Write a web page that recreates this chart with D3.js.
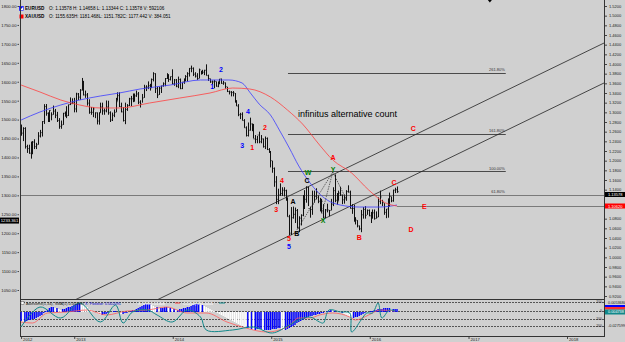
<!DOCTYPE html>
<html>
<head>
<meta charset="utf-8">
<script src="https://cdn.jsdelivr.net/npm/d3@7"></script>
<style>
  body { margin: 0; background: #d0d0d0; }
  svg { display: block; font-family: "Liberation Sans", Arial, sans-serif; }
</style>
</head>
<body>
<svg id="chart" width="625" height="342"></svg>
<script>
// EURUSD weekly bars, one row per year (2012 from Jun 18, 2016 up to Apr 11)
const hi = [
  1.2747,1.2692,1.2692,1.2330,1.2330,1.2390,1.2405,1.2443,1.2369,1.2590,1.2637,1.2818,1.3169,1.3172,1.3000,1.3044,1.3000,1.3140,1.3070,1.3010,1.2880,1.2830,1.2990,1.3017,1.3127,1.3160,1.3308,1.3290,
  1.3300,1.3405,1.3400,1.3480,1.3711,1.3650,1.3450,1.3400,1.3270,1.3110,1.3110,1.3000,1.3000,1.3000,1.3200,1.3200,1.3080,1.3245,1.3240,1.3020,1.2995,1.3060,1.3300,1.3415,1.3415,1.3200,1.3110,1.3200,1.3170,1.3300,1.3340,1.3390,1.3390,1.3450,1.3420,1.3250,1.3380,1.3570,1.3560,1.3640,1.3590,1.3700,1.3830,1.3810,1.3530,1.3530,1.3550,1.3620,1.3710,1.3810,1.3790,1.3740,
  1.3890,1.3690,1.3690,1.3740,1.3700,1.3620,1.3700,1.3770,1.3830,1.3915,1.3967,1.3930,1.3830,1.3810,1.3905,1.3860,1.3880,1.3880,1.3993,1.3780,1.3700,1.3660,1.3670,1.3640,1.3640,1.3690,1.3700,1.3650,1.3620,1.3530,1.3450,1.3440,1.3440,1.3400,1.3250,1.3170,1.2990,1.3000,1.2860,1.2710,1.2790,1.2890,1.2770,1.2760,1.2530,1.2510,1.2600,1.2530,1.2460,1.2500,1.2480,1.2260,
  1.2200,1.2000,1.1860,1.1680,1.1420,1.1530,1.1450,1.1450,1.1400,1.1240,1.0880,1.1040,1.1050,1.1030,1.1000,1.0850,1.0890,1.1290,1.1390,1.1470,1.1460,1.1050,1.1380,1.1380,1.1430,1.1280,1.1230,1.1210,1.1100,1.1000,1.1110,1.0980,1.1210,1.1450,1.1715,1.1330,1.1380,1.1460,1.1300,1.1300,1.1390,1.1490,1.1380,1.1100,1.1090,1.0830,1.0770,1.0660,1.0980,1.1040,1.1060,1.0990,
  1.0990,1.0940,1.0990,1.0990,1.0950,1.1240,1.1380,1.1190,1.1120,1.1000,1.1220,1.1340,1.1260,1.1400,1.1440,1.1466
];
const lo = [
  1.2516,1.2405,1.2250,1.2160,1.2143,1.2042,1.2133,1.2240,1.2240,1.2330,1.2480,1.2500,1.2760,1.2930,1.2800,1.2800,1.2835,1.2950,1.2880,1.2800,1.2660,1.2660,1.2740,1.2910,1.2880,1.2925,1.3150,1.3170,
  1.3000,1.3000,1.3255,1.3260,1.3450,1.3350,1.3300,1.3140,1.2970,1.2950,1.2900,1.2880,1.2750,1.2745,1.2990,1.2950,1.2950,1.3000,1.2950,1.2800,1.2820,1.2900,1.3000,1.3240,1.3110,1.3000,1.2810,1.2755,1.3030,1.3130,1.3130,1.3210,1.3220,1.3320,1.3170,1.3100,1.3200,1.3300,1.3440,1.3480,1.3450,1.3500,1.3640,1.3400,1.3295,1.3360,1.3400,1.3530,1.3540,1.3690,1.3630,1.3660,
  1.3580,1.3550,1.3520,1.3500,1.3480,1.3480,1.3590,1.3640,1.3640,1.3740,1.3830,1.3750,1.3720,1.3670,1.3700,1.3780,1.3790,1.3770,1.3760,1.3650,1.3610,1.3585,1.3500,1.3530,1.3520,1.3580,1.3590,1.3570,1.3490,1.3420,1.3370,1.3330,1.3330,1.3200,1.3130,1.2920,1.2860,1.2830,1.2680,1.2500,1.2500,1.2620,1.2610,1.2460,1.2360,1.2360,1.2360,1.2360,1.2270,1.2240,1.2220,1.2160,
  1.1860,1.1750,1.1460,1.1100,1.1100,1.1270,1.1270,1.1260,1.1170,1.0840,1.0462,1.0460,1.0800,1.0710,1.0600,1.0520,1.0660,1.0850,1.1000,1.1130,1.1060,1.0820,1.0880,1.1130,1.1200,1.1120,1.0950,1.0920,1.0810,1.0810,1.0930,1.0850,1.0970,1.1060,1.1140,1.1090,1.1170,1.1270,1.1100,1.1110,1.1170,1.1340,1.1010,1.0900,1.0740,1.0680,1.0620,1.0560,1.0520,1.0800,1.0800,1.0880,
  1.0850,1.0710,1.0800,1.0780,1.0800,1.0830,1.1100,1.1060,1.0880,1.0810,1.0820,1.1050,1.1140,1.1150,1.1330,1.1334
];
const cl = [
  1.2570,1.2666,1.2290,1.2250,1.2155,1.2390,1.2385,1.2290,1.2330,1.2510,1.2580,1.2810,1.3120,1.2980,1.2860,1.3040,1.2950,1.3025,1.2940,1.2830,1.2710,1.2740,1.2980,1.2990,1.2930,1.3160,1.3180,1.3195,
  1.3070,1.3380,1.3315,1.3460,1.3640,1.3360,1.3360,1.3190,1.3000,1.3000,1.3070,1.2990,1.2820,1.2990,1.3110,1.3030,1.3030,1.3110,1.2990,1.2840,1.2940,1.3000,1.3220,1.3345,1.3120,1.3010,1.2830,1.3060,1.3140,1.3280,1.3280,1.3340,1.3340,1.3380,1.3210,1.3170,1.3300,1.3520,1.3520,1.3550,1.3550,1.3680,1.3800,1.3490,1.3360,1.3500,1.3550,1.3590,1.3700,1.3740,1.3680,1.3740,
  1.3590,1.3670,1.3540,1.3680,1.3490,1.3630,1.3690,1.3740,1.3800,1.3910,1.3910,1.3790,1.3750,1.3700,1.3880,1.3810,1.3830,1.3870,1.3760,1.3700,1.3630,1.3630,1.3640,1.3540,1.3610,1.3690,1.3600,1.3610,1.3530,1.3430,1.3420,1.3410,1.3400,1.3240,1.3130,1.2950,1.2960,1.2830,1.2680,1.2520,1.2630,1.2760,1.2670,1.2450,1.2440,1.2530,1.2390,1.2450,1.2290,1.2460,1.2230,1.2190,
  1.2000,1.1840,1.1560,1.1200,1.1290,1.1320,1.1390,1.1380,1.1200,1.0840,1.0500,1.0820,1.0890,1.0970,1.0600,1.0810,1.0870,1.1200,1.1200,1.1450,1.1010,1.0990,1.1100,1.1260,1.1350,1.1160,1.1110,1.1160,1.0830,1.0980,1.0980,1.0970,1.1100,1.1380,1.1180,1.1150,1.1330,1.1290,1.1190,1.1210,1.1360,1.1350,1.1010,1.1010,1.0740,1.0770,1.0650,1.0590,1.0880,1.0990,1.0870,1.0970,
  1.0860,1.0920,1.0920,1.0800,1.0830,1.1160,1.1250,1.1130,1.0930,1.1000,1.1150,1.1260,1.1170,1.1390,1.1400,1.1358
];

// moving averages: [week index, price]
const blueMA = [[0,1.2841],[10,1.3007],[21,1.3152],[31,1.3255],[42,1.3338],[52,1.3400],[63,1.3483],[79,1.3565],[95,1.3669],[110,1.3669],[117,1.3607],[121,1.3420],[126,1.3172],[132,1.2945],[137,1.2614],[142,1.2262],[147,1.1890],[153,1.1538],[157,1.1351],[162,1.1186],[169,1.1082],[179,1.1041],[190,1.1041],[199,1.1082]];
const redMA = [[0,1.3565],[10,1.3421],[21,1.3255],[31,1.3152],[42,1.3090],[52,1.3090],[68,1.3193],[84,1.3296],[100,1.3400],[112,1.3503],[121,1.3483],[132,1.3317],[141,1.3048],[149,1.2758],[158,1.2324],[165,1.2014],[175,1.1745],[184,1.1393],[193,1.1124],[199,1.1062]];

// oscillator panel
const histo = [
  -9,-10,-10,-9,-8,-8,-7,-7,-6, -5,-4,-3,-1, 1,2,4,5,5,4,4,3, 2,3,3,4,5,5,
  6,7,8,9,9,8,7,6, 5,3,2,1,0,-1,-2,-3,-3,-2,-2, -1,0,0,1,1,0,-1, -2,-2,-1,-1,0,1,
  2,2,3,4,5,6,7,8,8,8,7,6, 5,5,4,4,4,5,5,4,4,3, 3,2,2,3,3,4,4,5,
  5,6,7,8,8,8,7,7,6,5, 4,3,2,1,0,-1,-2,-3,-4,-5,-6,-7,
  -8,-9,-10,-11,-12,-13,-14,-15,-16,-16,-17,-17,-18,-18,-17,-17,-17,-18,-18,-18,
  -18,-18,-17,-17,-17,-16,-16,-17,-18,-18,-17,-16,
  -15,-14,-13,-11,-10,-9,-8,-7,-6,-5,-4,-4,-3,
  -3,-2,-2,-1,-1,0,1,1,2,1,1,0,0,-1,-1,
  -2,-3,-4,-5,-6,-6,-5,-5,-4,-3,
  -2,-1,0,0,1,1,2,2,3,3,3,4,4,4,4,3,3,3,3
];
const signal = [[0,-10],[6,-11],[14,-1],[24,0],[35,2],[45,-3],[56,1],[67,2],[77,5],[88,-1],[98,-1],[109,-10],[119,-16],[130,-20],[141,-15],[147,-6],[153,-6],[158,-3],[165,-1],[174,-5],[177,-8],[184,-3],[190,2],[198,1]];
const cci = [[0,-15],[10,5],[21,-6],[31,9],[42,-10],[50,7],[54,-11],[59,0],[67,2],[72,-3],[80,-10],[88,2],[95,-5],[98,-18],[112,-18],[123,-15],[133,-21],[142,-13],[147,-8],[153,-5],[158,-10],[160,-11],[163,2],[169,0],[174,-1],[175,-20],[180,-8],[183,-1],[186,-1],[189,9],[191,-6],[195,2],[198,1]];
const indLevels = [10, 1, -7, -14];
const indLevelNames = ['100', '0', '-100', '-200'];

// annotations
const fibValues = [1.1293, 1.1776, 1.2557, 1.3820];
const fibNames = ['61.80%', '100.00%', '161.80%', '261.80%'];
const fibSpan = ['2015-03-04', '2017-05-19'];
const trendUpper = [['2013-01-03', 0.9117], ['2018-05-18', 1.4434]];
const trendLower = [['2013-11-03', 0.9117], ['2018-05-18', 1.3607]];
const wxyLines = [
  [['2015-04-06', 1.0565], ['2015-08-17', 1.1765]],
  [['2015-07-07', 1.0896], ['2015-08-17', 1.1765]],
  [['2015-08-17', 1.1765], ['2015-10-04', 1.1227]]
];
const waveLabels = [
  ['1','#0000ff','2014-05-27',1.3524], ['2','#0000ff','2014-06-29',1.3876],
  ['3','#0000ff','2014-09-15',1.2303], ['4','#0000ff','2014-10-07',1.3007],
  ['5','#0000ff','2015-03-08',1.0214],
  ['1','#ff0000','2014-10-22',1.2262], ['2','#ff0000','2014-12-09',1.2676],
  ['3','#ff0000','2015-01-19',1.0979], ['4','#ff0000','2015-02-10',1.1579],
  ['5','#ff0000','2015-03-08',1.0379],
  ['A','#000000','2015-03-23',1.1145], ['B','#000000','2015-04-06',1.0483],
  ['C','#000000','2015-05-14',1.1579],
  ['W','#008000','2015-05-17',1.1745], ['X','#008000','2015-07-12',1.0752],
  ['Y','#008000','2015-08-18',1.1807],
  ['A','#ff0000','2015-08-18',1.2055], ['B','#ff0000','2015-11-23',1.0400],
  ['C','#ff0000','2016-03-31',1.1538], ['D','#ff0000','2016-06-02',1.0565],
  ['E','#ff0000','2016-07-21',1.1041], ['C','#ff0000','2016-06-10',1.2655]
];
const noteText = 'infinitus alternative count';
const notePos = ['2015-04-10', 1.2903];

// axes
const goldTicks = [1800,1750,1700,1650,1600,1550,1500,1450,1400,1350,1300,1250,1200,1150,1100,1050];
const eurTicks = [1.52,1.50,1.48,1.46,1.44,1.42,1.40,1.38,1.36,1.34,1.32,1.30,1.28,1.26,1.24,1.22,1.20,1.18,1.16,1.14,1.08,1.06,1.04,1.02,1.00,0.98,0.96,0.94,0.92];
const timeTicks = ['2012-06-18','2013-01-01','2014-01-01','2015-01-01','2016-01-01','2017-01-01','2018-01-01'];
const timeLabels = ['2012','2013','2014','2015','2016','2017','2018'];
const lastClose = 1.13578;
const bidLevel = 1.1300;     // where the bid line and its tag sit
const goldLast = 1233.361;
const shiftMark = '2017-03-21';

const parseDate = d3.timeParse('%Y-%m-%d');
const weeks = d3.timeMonday.range(new Date(2012, 5, 18), new Date(2016, 3, 12));

const svg = d3.select('#chart');
const x = d3.scaleTime().domain([parseDate('2012-06-14'), parseDate('2018-05-18')]).range([20, 604]);
const y = d3.scaleLinear().domain([0.92, 1.52]).range([296, 6]);
const yGold = d3.scaleLinear().domain([1050, 1800]).range([290, 6]);
const yInd = d3.scaleLinear().domain([-24, 13]).range([336, 299]);
const px = v => Math.round(v) + 0.5;

svg.append('rect').attr('width', 625).attr('height', 342).attr('fill', '#d0d0d0');

const defs = svg.append('defs');
defs.append('clipPath').attr('id', 'mainClip')
  .append('rect').attr('x', 20).attr('y', 0).attr('width', 584).attr('height', 299);
defs.append('clipPath').attr('id', 'indClip')
  .append('rect').attr('x', 20).attr('y', 300).attr('width', 584).attr('height', 36);

const main = svg.append('g').attr('clip-path', 'url(#mainClip)');

// fibonacci levels
fibValues.forEach((v, i) => {
  main.append('line')
    .attr('x1', x(parseDate(fibSpan[0]))).attr('x2', x(parseDate(fibSpan[1])))
    .attr('y1', px(y(v))).attr('y2', px(y(v)))
    .attr('stroke', '#4a4a4a').attr('stroke-width', 1);
  main.append('text')
    .attr('x', x(parseDate(fibSpan[1])) - 1).attr('y', y(v) - 1.5)
    .attr('text-anchor', 'end').attr('font-size', 4).attr('fill', '#333')
    .text(fibNames[i]);
});

// price lines
main.append('line').attr('x1', 20).attr('x2', 604)
  .attr('y1', px(y(bidLevel))).attr('y2', px(y(bidLevel)))
  .attr('stroke', '#7a7a7a').attr('stroke-width', 1);
main.append('line').attr('x1', x(weeks[weeks.length - 1])).attr('x2', 604)
  .attr('y1', px(y(redMA[redMA.length - 1][1]))).attr('y2', px(y(redMA[redMA.length - 1][1])))
  .attr('stroke', '#7a7a7a').attr('stroke-width', 1);

// channel
[trendUpper, trendLower].forEach(t => {
  main.append('line')
    .attr('x1', x(parseDate(t[0][0]))).attr('y1', y(t[0][1]))
    .attr('x2', x(parseDate(t[1][0]))).attr('y2', y(t[1][1]))
    .attr('stroke', '#222').attr('stroke-width', 0.8);
});

// bars
const bars = main.append('g');
weeks.forEach((d, i) => {
  const bx = px(x(d));
  bars.append('line').attr('x1', bx).attr('x2', bx)
    .attr('y1', y(hi[i])).attr('y2', y(lo[i]))
    .attr('stroke', '#111').attr('stroke-width', 1);
  bars.append('line').attr('x1', bx).attr('x2', bx + 1.2)
    .attr('y1', y(cl[i])).attr('y2', y(cl[i]))
    .attr('stroke', '#111').attr('stroke-width', 0.8);
});

// moving averages
const maLine = d3.line().x(d => x(weeks[d[0]])).y(d => y(d[1])).curve(d3.curveMonotoneX);
main.append('path').datum(blueMA).attr('d', maLine)
  .attr('fill', 'none').attr('stroke', '#3c3cff').attr('stroke-width', 0.8);
main.append('path').datum(redMA).attr('d', maLine)
  .attr('fill', 'none').attr('stroke', '#ff4040').attr('stroke-width', 0.8);

// W-X-Y dotted lines
wxyLines.forEach(seg => {
  main.append('line')
    .attr('x1', x(parseDate(seg[0][0]))).attr('y1', y(seg[0][1]))
    .attr('x2', x(parseDate(seg[1][0]))).attr('y2', y(seg[1][1]))
    .attr('stroke', '#333').attr('stroke-width', 0.7).attr('stroke-dasharray', '1.5,1');
});

// wave labels
main.selectAll('text.wave').data(waveLabels).join('text')
  .attr('class', 'wave')
  .attr('x', d => x(parseDate(d[2]))).attr('y', d => y(d[3]))
  .attr('text-anchor', 'middle').attr('dominant-baseline', 'middle')
  .attr('font-size', 7).attr('font-weight', 'bold').attr('fill', d => d[1])
  .text(d => d[0]);

main.append('text')
  .attr('x', x(parseDate(notePos[0]))).attr('y', y(notePos[1]))
  .attr('font-size', 9).attr('fill', '#000').text(noteText);

// legend
const leg = svg.append('g').attr('font-size', 4.6).attr('fill', '#000');
leg.append('rect').attr('x', 19.5).attr('y', 6.5).attr('width', 4).attr('height', 4).attr('fill', '#fff').attr('stroke', '#0000ff').attr('stroke-width', 0.6);
leg.append('path').attr('d', 'M19.5,6.5 L23.5,6.5 L19.5,10.5 Z').attr('fill', '#0000ff');
leg.append('rect').attr('x', 19.5).attr('y', 14.5).attr('width', 4).attr('height', 4).attr('fill', '#ff0000');
leg.append('text').attr('x', 25).attr('y', 10.4).attr('font-weight', 'bold').text('EURUSD');
leg.append('text').attr('x', 49).attr('y', 10.4).text('O: 1.13578   H: 1.14658   L: 1.13344   C: 1.13578   V: 592106');
leg.append('text').attr('x', 25).attr('y', 18.4).attr('font-weight', 'bold').text('XAUUSD');
leg.append('text').attr('x', 49).attr('y', 18.4).text('O: 1155.635H: 1181.468L: 1151.782C: 1177.442 V: 384.051');

// plot frame
svg.append('line').attr('x1', 20.5).attr('x2', 20.5).attr('y1', 0).attr('y2', 337).attr('stroke', '#333');
svg.append('line').attr('x1', 604.5).attr('x2', 604.5).attr('y1', 0).attr('y2', 337).attr('stroke', '#333');
svg.append('line').attr('x1', 20).attr('x2', 605).attr('y1', 299.5).attr('y2', 299.5).attr('stroke', '#333');
svg.append('line').attr('x1', 20).attr('x2', 605).attr('y1', 336.5).attr('y2', 336.5).attr('stroke', '#333');

// left (gold) axis
const leftAxis = svg.append('g').attr('transform', 'translate(19,0)')
  .call(d3.axisLeft(yGold).tickValues(goldTicks).tickSize(1.5).tickFormat(d3.format('.2f')));
leftAxis.select('.domain').remove();
leftAxis.selectAll('text').attr('font-size', 4.2).attr('fill', '#222').attr('x', -2.5).attr('font-family', null);
leftAxis.selectAll('line').attr('stroke', '#444');
svg.append('rect').attr('x', 0).attr('y', yGold(goldLast) - 3).attr('width', 19).attr('height', 6).attr('fill', '#000');
svg.append('text').attr('x', 9.5).attr('y', yGold(goldLast) + 1.5).attr('text-anchor', 'middle')
  .attr('font-size', 4.2).attr('fill', '#fff').text(goldLast.toFixed(3));

// right (EURUSD) axis
const rightAxis = svg.append('g').attr('transform', 'translate(605,0)')
  .call(d3.axisRight(y).tickValues(eurTicks).tickSize(2).tickFormat(d3.format('.4f')));
rightAxis.select('.domain').remove();
rightAxis.selectAll('text').attr('font-size', 4).attr('fill', '#222').attr('x', 4).attr('font-family', null);
rightAxis.selectAll('line').attr('stroke', '#444');
svg.append('rect').attr('x', 605).attr('y', y(bidLevel) - 2.5).attr('width', 20).attr('height', 5).attr('fill', '#000');
svg.append('text').attr('x', 608).attr('y', y(bidLevel) + 1.5).attr('font-size', 4).attr('fill', '#fff').text(lastClose.toFixed(5));
const redLast = redMA[redMA.length - 1][1];
svg.append('rect').attr('x', 605).attr('y', y(redLast) - 2.5).attr('width', 20).attr('height', 5).attr('fill', '#ff0000');
svg.append('text').attr('x', 608).attr('y', y(redLast) + 1.5).attr('font-size', 4).attr('fill', '#fff').text('1.10620');

// chart shift marker
svg.append('path')
  .attr('d', `M${x(parseDate(shiftMark)) - 2},0 L${x(parseDate(shiftMark)) + 2},0 L${x(parseDate(shiftMark))},2.5 Z`)
  .attr('fill', '#000');

// oscillator panel
const ind = svg.append('g').attr('clip-path', 'url(#indClip)');
indLevels.forEach((v, i) => {
  ind.append('line').attr('x1', 20).attr('x2', 604)
    .attr('y1', px(yInd(v))).attr('y2', px(yInd(v)))
    .attr('stroke', '#555').attr('stroke-width', 1).attr('stroke-dasharray', '2,1');
  ind.append('text').attr('x', 602).attr('y', yInd(v) + 1.2).attr('text-anchor', 'end')
    .attr('font-size', 3.5).attr('fill', '#333').text(indLevelNames[i]);
});
weeks.forEach((d, i) => {
  const v = histo[i];
  const up = i === 0 || v >= histo[i - 1];
  ind.append('rect')
    .attr('x', x(d) - 0.7).attr('width', 1.4)
    .attr('y', Math.min(yInd(0), yInd(v))).attr('height', Math.abs(yInd(v) - yInd(0)))
    .attr('fill', up ? '#0000ff' : '#ffffff');
});
const indLine = d3.line().x(d => x(weeks[d[0]])).y(d => yInd(d[1]));
ind.append('path').datum(signal).attr('d', indLine.curve(d3.curveMonotoneX))
  .attr('fill', 'none').attr('stroke', '#ff5a5a').attr('stroke-width', 0.8);
ind.append('path').datum(cci).attr('d', indLine.curve(d3.curveCatmullRom))
  .attr('fill', 'none').attr('stroke', '#11888a').attr('stroke-width', 1);

const indLeg = svg.append('g').attr('font-size', 3.8);
indLeg.append('rect').attr('x', 21).attr('y', 301.5).attr('width', 3).attr('height', 3).attr('fill', '#fff').attr('stroke', '#333').attr('stroke-width', 0.4);
indLeg.append('text').attr('x', 26).attr('y', 304.5).attr('fill', '#222').text('Awesome(5,34), SMA(5) 0.002637');
indLeg.append('text').attr('x', 85).attr('y', 304.5).attr('fill', '#0000cc').text('X: Positive: 0.002091');
indLeg.append('text').attr('x', 138).attr('y', 304.5).attr('fill', '#fff').text('X: 0.00 0.01308');
indLeg.append('line').attr('x1', 175).attr('x2', 180).attr('y1', 303).attr('y2', 303).attr('stroke', '#ff4040');
indLeg.append('text').attr('x', 183).attr('y', 304.5).attr('fill', '#fff').text('CCI(14) 185.0001');
indLeg.append('line').attr('x1', 219).attr('x2', 225).attr('y1', 303).attr('y2', 303).attr('stroke', '#11888a');

const indAxis = svg.append('g').attr('font-size', 3.8).attr('fill', '#222');
indAxis.append('text').attr('x', 608).attr('y', 303.5).text('0.0053684');
indAxis.append('rect').attr('x', 605).attr('y', 305).attr('width', 20).attr('height', 2).attr('fill', '#0000ff');
indAxis.append('rect').attr('x', 605).attr('y', 307).attr('width', 20).attr('height', 2.5).attr('fill', '#ff3030');
indAxis.append('rect').attr('x', 605).attr('y', 309.5).attr('width', 20).attr('height', 5).attr('fill', '#11888a');
indAxis.append('text').attr('x', 608).attr('y', 313.3).attr('fill', '#fff').text('0.004738');
indAxis.append('text').attr('x', 608).attr('y', 326.5).text('-0.027599');

// time axis
const timeAxis = svg.append('g').attr('transform', 'translate(0,337)')
  .call(d3.axisBottom(x).tickValues(timeTicks.map(parseDate)).tickSize(2)
    .tickFormat((d, i) => timeLabels[i]));
timeAxis.select('.domain').remove();
timeAxis.selectAll('line').attr('stroke', '#444');
timeAxis.selectAll('text').attr('font-size', 4.2).attr('fill', '#222').attr('font-family', null)
  .attr('text-anchor', 'start').attr('dx', 1.5).attr('y', 1).attr('dy', '0.75em');
</script>
</body>
</html>
